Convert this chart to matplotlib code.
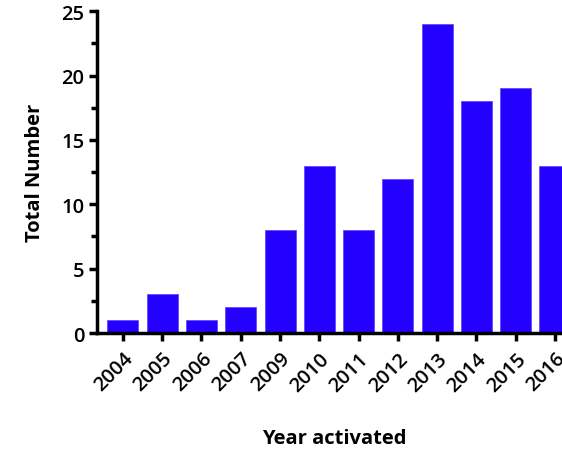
import matplotlib.pyplot as plt
import numpy as np
from matplotlib.ticker import MultipleLocator

years = ["2004", "2005", "2006", "2007", "2009", "2010", "2011", "2012",
         "2013", "2014", "2015", "2016"]
totals = [1, 3, 1, 2, 8, 13, 8, 12, 24, 18, 19, 13]

plt.rcParams['font.family'] = ['Open Sans', 'DejaVu Sans']

fig = plt.figure(figsize=(5.62, 4.52), dpi=100)
ax = fig.add_axes([0.1726, 0.261, 0.8274, 0.712])

x = np.arange(len(years))
ax.bar(x, totals, width=0.79, color="#2400ff", edgecolor="#5a40ff", linewidth=0.5)

ax.set_xlim(-0.66, 11.18)
ax.set_ylim(0, 25)
ax.yaxis.set_major_locator(MultipleLocator(5))
ax.yaxis.set_minor_locator(MultipleLocator(2.5))
ax.set_xticks(x)
ax.set_xticklabels(years, rotation=45, ha='right', rotation_mode='anchor',
                   fontsize=14.5, fontweight='semibold')
for lab in ax.get_yticklabels():
    lab.set_fontsize(14.5)
    lab.set_fontweight('semibold')

for side in ['top', 'right']:
    ax.spines[side].set_visible(False)
for side in ['left', 'bottom']:
    ax.spines[side].set_linewidth(2.5)
ax.tick_params(axis='both', which='major', length=6, width=2.5, direction='out', pad=3)
ax.tick_params(axis='y', which='minor', length=4, width=2.5)
ax.tick_params(axis='x', pad=5)

ax.set_ylabel("Total Number", fontsize=14.5, fontweight='bold', labelpad=12)
fig.text(0.594, 0.018, "Year activated", fontsize=14.5, fontweight='bold', ha='center')

fig.savefig("out.png", dpi=100)
